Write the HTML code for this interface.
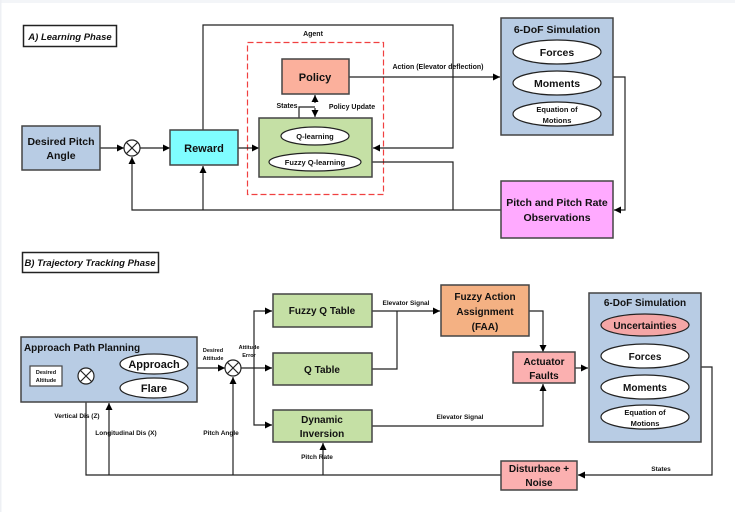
<!DOCTYPE html>
<html><head><meta charset="utf-8"><style>
html,body{margin:0;padding:0;background:#fff;}
svg{display:block;font-family:"Liberation Sans",sans-serif;}
.b{font-weight:bold;}
</style></head><body>
<svg width="735" height="512" viewBox="0 0 735 512" xmlns="http://www.w3.org/2000/svg">
<defs>
<marker id="a" markerWidth="8" markerHeight="8" refX="7" refY="4" orient="auto" markerUnits="userSpaceOnUse">
<path d="M0,0.5 L7,4 L0,7.5 z" fill="#000"/></marker>
</defs>
<rect x="0" y="0" width="735" height="3" fill="#f3f5f8"/>
<rect x="0" y="0" width="1.5" height="512" fill="#eef0f4"/>
<g stroke="#222" stroke-width="1.2" fill="none">
<!-- Section A -->
<rect x="23.5" y="25.5" width="93" height="21" stroke-width="1.5"/>
<rect x="247.5" y="42.5" width="136" height="152" stroke="#f04040" stroke-dasharray="6,3"/>
<polyline points="203,130 203,25 453,25 453,148 373,148" marker-end="url(#a)"/>
<polyline points="100,148 124,148" marker-end="url(#a)"/>
<polyline points="140,148 170,148" marker-end="url(#a)"/>
<polyline points="238,148 259,148" marker-end="url(#a)"/>
<polyline points="349,77 500,77" marker-end="url(#a)"/>
<polyline points="613,77 625,77 625,210 614,210" marker-end="url(#a)"/>
<polyline points="501,210 132,210 132,157" marker-end="url(#a)"/>
<polyline points="203,210 203,166" marker-end="url(#a)"/>
<polyline points="453,210 453,162 362,162" marker-end="url(#a)"/>
<line x1="315" y1="103" x2="315" y2="95" marker-end="url(#a)"/>
<line x1="315" y1="108" x2="315" y2="117" marker-end="url(#a)"/>
<polyline points="299,118 299,107 315,107"/>
<!-- Section B -->
<rect x="22.5" y="252.5" width="136" height="20" stroke-width="1.5"/>
<polyline points="62,376 78,376" marker-end="url(#a)"/>
<polyline points="94,376 106,376 106,364 120,364" marker-end="url(#a)"/>
<polyline points="106,376 106,388 120,388" marker-end="url(#a)"/>
<polyline points="197,368 225,368" marker-end="url(#a)"/>
<polyline points="241,368 272,368" marker-end="url(#a)"/>
<polyline points="254,368 254,311 272,311" marker-end="url(#a)"/>
<polyline points="254,368 254,425 272,425" marker-end="url(#a)"/>
<polyline points="372,311 440,311" marker-end="url(#a)"/>
<polyline points="372,369 397,369 397,311"/>
<polyline points="529,311 543,311 543,352" marker-end="url(#a)"/>
<polyline points="372,426 543,426 543,384" marker-end="url(#a)"/>
<polyline points="575,368 588,368" marker-end="url(#a)"/>
<polyline points="701,367 712,367 712,475 578,475" marker-end="url(#a)"/>
<polyline points="501,475 86,475 86,385" marker-end="url(#a)"/>
<polyline points="109,475 109,403" marker-end="url(#a)"/>
<polyline points="233,475 233,377" marker-end="url(#a)"/>
<polyline points="323,475 323,443" marker-end="url(#a)"/>
</g>
<g stroke="#444" stroke-width="1.5">
<rect x="22" y="126" width="78" height="44" fill="#b8cce4"/>
<rect x="170" y="130" width="68" height="35" fill="#7ffdff"/>
<rect x="282" y="59" width="67" height="35" fill="#fbb09c"/>
<rect x="259" y="118" width="113" height="59" fill="#c5e0a5"/>
<rect x="501" y="18" width="112" height="117" fill="#b8cce4"/>
<rect x="501" y="181" width="112" height="57" fill="#ffaaff"/>
<rect x="21" y="337" width="176" height="65" fill="#b8cce4"/>
<rect x="273" y="294" width="99" height="33" fill="#c5e0a5"/>
<rect x="273" y="353" width="99" height="32" fill="#c5e0a5"/>
<rect x="273" y="410" width="99" height="32" fill="#c5e0a5"/>
<rect x="441" y="285" width="88" height="51" fill="#f4b183"/>
<rect x="513" y="352" width="62" height="31" fill="#fbb0b0"/>
<rect x="589" y="293" width="112" height="149" fill="#b8cce4"/>
<rect x="501" y="461" width="76" height="29" fill="#fbb0b0"/>
</g>
<g stroke="#222" stroke-width="1.2" fill="#fff">
<rect x="30" y="366" width="32" height="20" stroke="#444"/>
<ellipse cx="315" cy="136" rx="34" ry="9"/>
<ellipse cx="315" cy="162" rx="46" ry="9"/>
<ellipse cx="557" cy="52" rx="44" ry="12"/>
<ellipse cx="557" cy="83" rx="44" ry="12"/>
<ellipse cx="557" cy="114" rx="44" ry="12"/>
<ellipse cx="154" cy="364" rx="34" ry="10"/>
<ellipse cx="154" cy="388" rx="34" ry="10"/>
<ellipse cx="645" cy="325" rx="44" ry="11" fill="#f4a6a6"/>
<ellipse cx="645" cy="356" rx="44" ry="12"/>
<ellipse cx="645" cy="387" rx="44" ry="12"/>
<ellipse cx="645" cy="417" rx="44" ry="12"/>
<circle cx="132" cy="148" r="8"/><path d="M126.5,142.5 L137.5,153.5 M137.5,142.5 L126.5,153.5"/>
<circle cx="86" cy="376" r="8"/><path d="M80.5,370.5 L91.5,381.5 M91.5,370.5 L80.5,381.5"/>
<circle cx="233" cy="368" r="8"/><path d="M227.5,362.5 L238.5,373.5 M238.5,362.5 L227.5,373.5"/>
</g>
<g fill="#111" text-anchor="middle">
<text x="70" y="40" font-size="9.5" font-style="italic" class="b">A) Learning Phase</text>
<text x="313" y="36" font-size="7" class="b">Agent</text>
<text x="61" y="145" font-size="10.5" class="b">Desired Pitch</text>
<text x="61" y="159" font-size="10.5" class="b">Angle</text>
<text x="204" y="152" font-size="11" class="b">Reward</text>
<text x="315" y="81" font-size="11" class="b">Policy</text>
<text x="287" y="108" font-size="7" class="b">States</text>
<text x="352" y="109" font-size="7" class="b">Policy Update</text>
<text x="315" y="139" font-size="7.5" class="b">Q-learning</text>
<text x="315" y="165" font-size="7.5" class="b">Fuzzy Q-learning</text>
<text x="438" y="69" font-size="7" class="b">Action (Elevator deflection)</text>
<text x="557" y="33" font-size="10.5" class="b">6-DoF Simulation</text>
<text x="557" y="56" font-size="10.5" class="b">Forces</text>
<text x="557" y="87" font-size="10.5" class="b">Moments</text>
<text x="557" y="112" font-size="7.5" class="b">Equation of</text>
<text x="557" y="123" font-size="7.5" class="b">Motions</text>
<text x="557" y="206" font-size="10.5" class="b">Pitch and Pitch Rate</text>
<text x="557" y="221" font-size="10.5" class="b">Observations</text>
<text x="90" y="266" font-size="9.5" font-style="italic" class="b">B) Trajectory Tracking Phase</text>
<text x="82" y="351" font-size="10" class="b" text-anchor="middle">Approach Path Planning</text>
<text x="46" y="374" font-size="5.5" class="b">Desired</text>
<text x="46" y="382" font-size="5.5" class="b">Altitude</text>
<text x="154" y="368" font-size="11" class="b">Approach</text>
<text x="154" y="392" font-size="11" class="b">Flare</text>
<text x="213" y="352" font-size="5.5" class="b">Desired</text>
<text x="213" y="360" font-size="5.5" class="b">Attitude</text>
<text x="249" y="349" font-size="5.5" class="b">Attitude</text>
<text x="249" y="357" font-size="5.5" class="b">Error</text>
<text x="322" y="314" font-size="10" class="b">Fuzzy Q Table</text>
<text x="322" y="373" font-size="10" class="b">Q Table</text>
<text x="322" y="423" font-size="10" class="b">Dynamic</text>
<text x="322" y="437" font-size="10" class="b">Inversion</text>
<text x="406" y="305" font-size="6.5" class="b">Elevator Signal</text>
<text x="485" y="300" font-size="10" class="b">Fuzzy Action</text>
<text x="485" y="315" font-size="10" class="b">Assignment</text>
<text x="485" y="330" font-size="10" class="b">(FAA)</text>
<text x="544" y="365" font-size="10" class="b">Actuator</text>
<text x="544" y="379" font-size="10" class="b">Faults</text>
<text x="460" y="419" font-size="6.5" class="b">Elevator Signal</text>
<text x="645" y="306" font-size="10" class="b">6-DoF Simulation</text>
<text x="645" y="329" font-size="10" class="b">Uncertainties</text>
<text x="645" y="360" font-size="10" class="b">Forces</text>
<text x="645" y="391" font-size="10" class="b">Moments</text>
<text x="645" y="415" font-size="7.5" class="b">Equation of</text>
<text x="645" y="426" font-size="7.5" class="b">Motions</text>
<text x="539" y="472" font-size="10" class="b">Disturbace +</text>
<text x="539" y="486" font-size="10" class="b">Noise</text>
<text x="661" y="471" font-size="6.5" class="b">States</text>
<text x="77" y="418" font-size="6.5" class="b">Vertical Dis (Z)</text>
<text x="126" y="435" font-size="6.5" class="b">Longitudinal Dis (X)</text>
<text x="221" y="435" font-size="6.5" class="b">Pitch Angle</text>
<text x="317" y="459" font-size="6.5" class="b">Pitch Rate</text>
</g>
</svg>
</body></html>
